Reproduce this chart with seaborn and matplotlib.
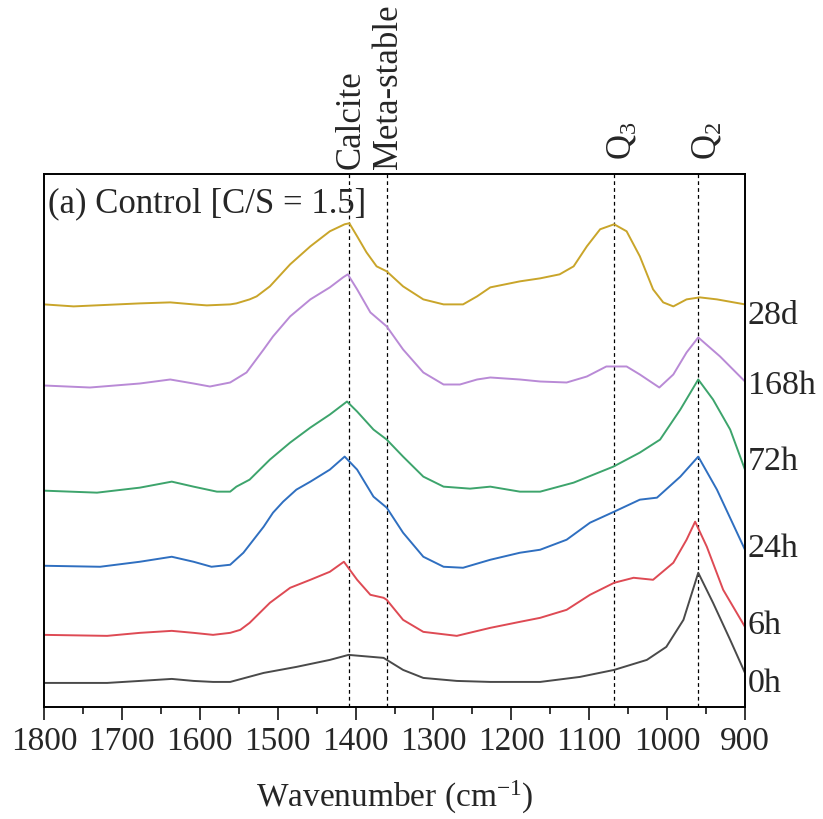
import matplotlib
matplotlib.use("Agg")
import matplotlib.pyplot as plt
import matplotlib.transforms as mtransforms
import pandas as pd
import seaborn as sns

# FTIR spectra of the control paste (C/S = 1.5), stacked by curing age
samples = ["0h", "6h", "24h", "72h", "168h", "28d"]
colors = ["#4a4a4a", "#de4a54", "#2f6fc0", "#3da46c", "#b98ad6", "#c9a52a"]

wn_0h = [1800, 1719, 1677, 1636, 1608, 1583, 1561, 1518, 1476, 1433, 1409, 1364,
         1339, 1313, 1270, 1227, 1163, 1112, 1068, 1026, 1001, 979, 960, 941, 919, 900]
ab_0h = [0.24, 0.24, 0.26, 0.28, 0.26, 0.25, 0.25, 0.34, 0.40, 0.47, 0.52, 0.49,
         0.37, 0.29, 0.26, 0.25, 0.25, 0.30, 0.37, 0.47, 0.60, 0.87, 1.34, 1.04,
         0.67, 0.34]

wn_6h = [1800, 1719, 1677, 1636, 1608, 1583, 1561, 1548, 1536, 1510, 1484, 1458,
         1433, 1415, 1398, 1381, 1364, 1360, 1339, 1313, 1270, 1227, 1189, 1163,
         1129, 1099, 1068, 1043, 1018, 992, 975, 964, 949, 928, 900]
ab_6h = [0.72, 0.71, 0.74, 0.76, 0.74, 0.72, 0.74, 0.77, 0.84, 1.04, 1.19, 1.27,
         1.35, 1.45, 1.27, 1.12, 1.09, 1.07, 0.87, 0.75, 0.71, 0.79, 0.85, 0.89,
         0.97, 1.12, 1.24, 1.29, 1.27, 1.44, 1.67, 1.85, 1.60, 1.17, 0.80]

wn_24h = [1800, 1728, 1677, 1636, 1608, 1585, 1561, 1544, 1518, 1506, 1493, 1476,
          1458, 1433, 1414, 1398, 1377, 1360, 1339, 1313, 1287, 1262, 1227, 1189,
          1163, 1129, 1099, 1068, 1035, 1013, 983, 960, 936, 900]
ab_24h = [1.41, 1.40, 1.45, 1.50, 1.45, 1.40, 1.42, 1.54, 1.80, 1.94, 2.05, 2.17,
          2.25, 2.37, 2.50, 2.37, 2.10, 1.99, 1.74, 1.50, 1.40, 1.39, 1.47, 1.54,
          1.57, 1.67, 1.84, 1.95, 2.07, 2.09, 2.30, 2.50, 2.17, 1.57]

wn_72h = [1800, 1732, 1677, 1636, 1608, 1578, 1561, 1553, 1536, 1510, 1484, 1458,
          1433, 1411, 1398, 1377, 1360, 1339, 1313, 1287, 1253, 1227, 1189, 1163,
          1120, 1069, 1035, 1009, 983, 960, 941, 919, 900]
ab_72h = [2.16, 2.14, 2.19, 2.25, 2.20, 2.15, 2.15, 2.20, 2.27, 2.47, 2.64, 2.79,
          2.92, 3.05, 2.95, 2.77, 2.67, 2.50, 2.30, 2.20, 2.18, 2.20, 2.15, 2.15,
          2.24, 2.40, 2.54, 2.67, 2.97, 3.27, 3.07, 2.77, 2.37]

wn_168h = [1800, 1741, 1677, 1638, 1608, 1587, 1561, 1540, 1518, 1506, 1484, 1458,
           1433, 1416, 1410, 1398, 1381, 1360, 1339, 1313, 1287, 1266, 1244, 1227,
           1189, 1163, 1129, 1103, 1078, 1052, 1035, 1010, 992, 975, 960, 932, 900]
ab_168h = [3.21, 3.19, 3.23, 3.27, 3.23, 3.20, 3.24, 3.34, 3.57, 3.70, 3.90, 4.07,
           4.19, 4.29, 4.32, 4.17, 3.94, 3.80, 3.57, 3.34, 3.22, 3.22, 3.27, 3.29,
           3.27, 3.25, 3.24, 3.30, 3.40, 3.40, 3.32, 3.19, 3.32, 3.54, 3.69, 3.50,
           3.25]

wn_28d = [1800, 1762, 1677, 1638, 1608, 1591, 1561, 1553, 1536, 1527, 1510, 1484,
          1458, 1433, 1414, 1408, 1398, 1386, 1373, 1360, 1339, 1313, 1287, 1262,
          1244, 1227, 1189, 1163, 1138, 1120, 1103, 1086, 1068, 1052, 1035, 1018,
          1005, 992, 975, 958, 936, 900]
ab_28d = [4.02, 4.00, 4.03, 4.04, 4.02, 4.01, 4.02, 4.03, 4.07, 4.10, 4.20, 4.42,
          4.60, 4.75, 4.82, 4.83, 4.70, 4.54, 4.40, 4.35, 4.20, 4.07, 4.02, 4.02,
          4.10, 4.19, 4.25, 4.28, 4.32, 4.40, 4.60, 4.77, 4.82, 4.75, 4.50, 4.17,
          4.04, 4.00, 4.07, 4.09, 4.07, 4.02]

band_wn = [1408, 1360, 1068, 960]
band_labels = ["Calcite", "Meta-stable", r"Q$_{\mathregular{3}}$", r"Q$_{\mathregular{2}}$"]

x_ticks = [1800, 1700, 1600, 1500, 1400, 1300, 1200, 1100, 1000, 900]

wn_all = [wn_0h, wn_6h, wn_24h, wn_72h, wn_168h, wn_28d]
ab_all = [ab_0h, ab_6h, ab_24h, ab_72h, ab_168h, ab_28d]
frames = []
for name, w, a in zip(samples, wn_all, ab_all):
    frames.append(pd.DataFrame({"sample": name, "wavenumber": w, "absorbance": a}))
df = pd.concat(frames, ignore_index=True)

sns.set_style("ticks")
plt.rcParams["font.family"] = ["Liberation Serif", "DejaVu Serif"]
plt.rcParams["mathtext.fontset"] = "custom"
plt.rcParams["mathtext.rm"] = "Liberation Serif"
plt.rcParams["mathtext.it"] = "Liberation Serif:italic"

fig = plt.figure(figsize=(8.23, 8.19), dpi=100)
ax = fig.add_axes([0.0535, 0.1368, 0.8517, 0.6505])

sns.lineplot(data=df, x="wavenumber", y="absorbance", hue="sample",
             hue_order=samples, palette=colors, estimator=None, sort=True,
             legend=False, linewidth=1.4, ax=ax)

ax.set_xlim(1800, 900)
ax.set_ylim(0, 5.32)
ax.set_xticks(x_ticks)
ax.set_xticks([t - 50 for t in x_ticks[:-1]], minor=True)
ax.set_yticks([])
ax.set_ylabel("")
ax.set_xlabel("Wavenumber (cm$^{\\mathregular{-1}}$)", fontsize=24, labelpad=16)
ax.tick_params(axis="x", which="major", direction="out", length=9, width=1.3,
               labelsize=24, pad=5, top=False)
ax.tick_params(axis="x", which="minor", direction="out", length=5, width=1.3, top=False)
for s in ax.spines.values():
    s.set_linewidth(1.4)
    s.set_color("black")

# peak markers: dashed guides with rotated names above the frame
trans = mtransforms.blended_transform_factory(ax.transData, ax.transAxes)
for w, lab in zip(band_wn, band_labels):
    ax.axvline(w, color="black", linestyle=(0, (3, 2.5)), linewidth=0.9, zorder=1)
    is_q = lab.startswith("Q")
    ax.annotate(lab, xy=(w, 1.0), xycoords=trans,
                xytext=(6 if is_q else 1, 10 if is_q else 4),
                textcoords="offset points", rotation=90, ha="center", va="bottom",
                fontsize=25)

# sample names next to the right-hand ends of the spectra
name_nudge = [-8, 0.5, 1, 6, -3, -8]
for name, a, dy in zip(samples, ab_all, name_nudge):
    ax.annotate(name, xy=(900, a[-1]), xycoords="data", xytext=(2, dy),
                textcoords="offset points", ha="left", va="center", fontsize=24.5,
                annotation_clip=False)

ax.text(0.005, 0.975, "(a) Control [C/S = 1.5]", transform=ax.transAxes,
        ha="left", va="top", fontsize=25)

fig.savefig("out.png", dpi=100)
